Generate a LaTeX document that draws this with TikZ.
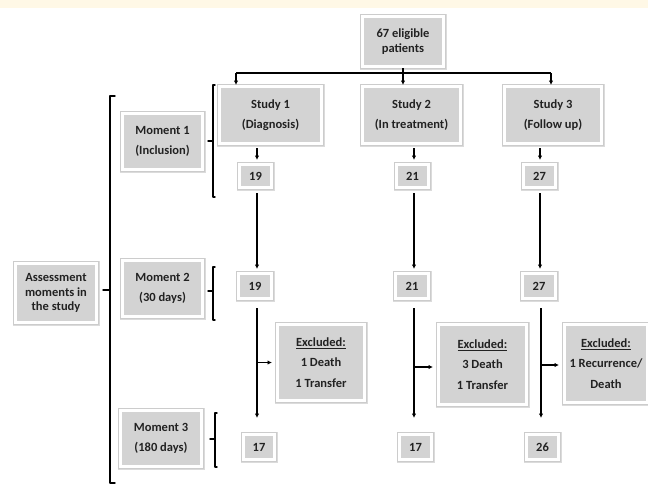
\documentclass[tikz,border=0pt]{standalone}
\usepackage{fontspec}
\setmainfont{Carlito}
\usetikzlibrary{arrows.meta}
\definecolor{boxgray}{HTML}{D3D3D3}
\definecolor{band}{HTML}{FFF8E6}
\definecolor{txt}{HTML}{222222}
\begin{document}
\begin{tikzpicture}[x=1pt,y=-1pt,
  box/.style={fill=boxgray, draw=white, line width=3pt, inner sep=0pt, outer sep=1.5pt,
    preaction={draw=black!14, line width=6pt, transform canvas={shift={(0.7pt,-0.7pt)}}},
    preaction={draw=black!20, line width=5pt},
    text=txt, align=center, font=\bfseries\fontsize{12.5}{20.5}\selectfont},
  tight/.style={font=\bfseries\fontsize{12.5}{14.5}\selectfont},
  conn/.style={line width=1.4pt, black},
  arr/.style={conn, -{Latex[length=4.5pt,width=4.5pt]}},
  brk/.style={line width=1.4pt, black, line cap=round, line join=round}]
\useasboundingbox (0,0) rectangle (648,485);
\fill[band] (0,0) rectangle (648,8);

% boxes
\node[box,tight,minimum width=81pt,minimum height=50pt] (top) at (403,41.5) {67 eligible\\patients};
\node[box,minimum width=102pt,minimum height=57pt] (s1) at (270.5,115) {Study 1\\(Diagnosis)};
\node[box,minimum width=98pt,minimum height=57pt] (s2) at (411.5,115) {Study 2\\(In treatment)};
\node[box,minimum width=97pt,minimum height=57pt] (s3) at (553,115) {Study 3\\(Follow up)};

\node[box,minimum width=80pt,minimum height=56pt] (m1) at (162.5,141.5) {Moment 1\\(Inclusion)};
\node[box,minimum width=80pt,minimum height=56pt] (m2) at (162.5,288.5) {Moment 2\\(30 days)};
\node[box,minimum width=81pt,minimum height=56pt] (m3) at (161,438.5) {Moment 3\\(180 days)};
\node[box,tight,minimum width=81pt,minimum height=59pt] (as) at (56,293) {Assessment\\moments in\\the study};

\node[box,minimum width=32pt,minimum height=23pt] (a1) at (255.5,176) {19};
\node[box,minimum width=32pt,minimum height=23pt] (b1) at (412.5,176) {21};
\node[box,minimum width=32pt,minimum height=23pt] (c1) at (539.5,176) {27};

\node[box,minimum width=33pt,minimum height=25pt] (a2) at (255,286) {19};
\node[box,minimum width=33pt,minimum height=25pt] (b2) at (412,286) {21};
\node[box,minimum width=33pt,minimum height=25pt] (c2) at (539,286) {27};

\node[box,minimum width=31pt,minimum height=25pt] (a3) at (259,447) {17};
\node[box,minimum width=32pt,minimum height=25pt] (b3) at (415.5,447) {17};
\node[box,minimum width=32pt,minimum height=25pt] (c3) at (542.5,447) {26};

\node[box,minimum width=87pt,minimum height=76pt] (e1) at (321,362.5) {\underline{Excluded:}\\1 Death\\1 Transfer};
\node[box,minimum width=88pt,minimum height=80pt] (e2) at (482.5,364.5) {\underline{Excluded:}\\3 Death\\1 Transfer};
\node[box,minimum width=83pt,minimum height=78pt] (e3) at (606,363.5) {\underline{Excluded:}\\1 Recurrence/\\Death};

% top distribution
\coordinate (hl) at (236,73);
\coordinate (hr) at (551,73);
\draw[conn] (hl) -- (hr);
\draw[arr] (hl) -- (hl |- s1.north);
\draw[arr] (hr) -- (hr |- s3.north);
\draw[arr] (top.south) -- (top.south |- s2.north);

% column 1
\draw[arr,shorten <=3pt,shorten >=3pt] ([xshift=1.5pt]s1.south -| a1.north) -- ([xshift=1.5pt]a1.north);
\draw[arr,shorten <=4pt,shorten >=3pt] ([xshift=1.5pt]a1.south) -- ([xshift=1.5pt]a1.south |- a2.north);
\draw[arr,shorten <=8pt,shorten >=15pt] ([xshift=2pt]a2.south) -- ([xshift=2pt]a2.south |- a3.north);
\coordinate (j1) at ([xshift=2pt]e1.west -| a2.south);
\draw[arr,shorten >=4pt] (j1) -- (j1 -| e1.west);

% column 2
\draw[arr,shorten <=3pt,shorten >=3pt] ([xshift=1.5pt]s2.south -| b1.north) -- ([xshift=1.5pt]b1.north);
\draw[arr,shorten <=4pt,shorten >=3pt] ([xshift=1.5pt]b1.south) -- ([xshift=1.5pt]b1.south |- b2.north);
\draw[arr,shorten <=8pt,shorten >=15pt] ([xshift=2pt]b2.south) -- ([xshift=2pt]b2.south |- b3.north);
\coordinate (j2) at ([xshift=2pt,yshift=-2.5pt]e2.west -| b2.south);
\draw[arr,shorten >=4pt] (j2) -- (j2 -| e2.west);

% column 3
\draw[arr,shorten <=3pt,shorten >=3pt] ([xshift=0.5pt]s3.south -| c1.north) -- ([xshift=0.5pt]c1.north);
\draw[arr,shorten <=4pt,shorten >=3pt] ([xshift=0.5pt]c1.south) -- ([xshift=0.5pt]c1.south |- c2.north);
\draw[arr,shorten <=8pt,shorten >=15pt] ([xshift=2pt]c2.south) -- ([xshift=2pt]c2.south |- c3.north);
\coordinate (j3) at ([xshift=2pt,yshift=-1.5pt]e3.west -| c2.south);
\draw[arr,shorten >=4pt] (j3) -- (j3 -| e3.west);

% brackets
\draw[brk] (215,85) -- (213,85) -- (213,197) -- (215,197);
\draw[brk] (213,141) -- (208,141);
\draw[brk] (215,267) -- (213,267) -- (213,320) -- (215,320);
\draw[brk] (213,291) -- (208,291);
\draw[brk] (217,413) -- (215,413) -- (215,467) -- (217,467);
\draw[brk] (215,439) -- (210,439);
\draw[brk] (115,96) -- (110,96) -- (110,483) -- (115,483);
\draw[brk] (110,290) -- (103,290);
\end{tikzpicture}
\end{document}
